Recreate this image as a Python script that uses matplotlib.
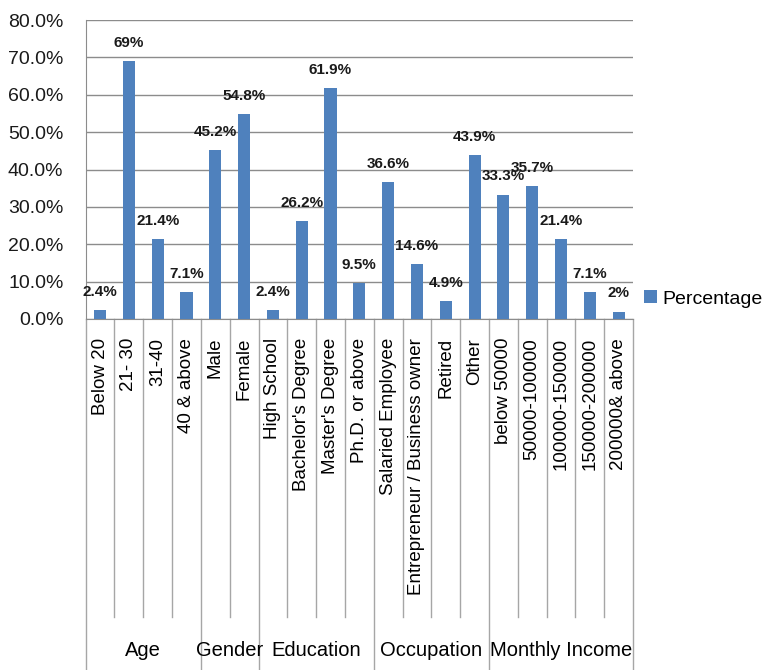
import matplotlib
matplotlib.use('Agg')
import matplotlib.pyplot as plt
from matplotlib.ticker import FuncFormatter

categories = ['Below 20', '21- 30', '31-40', '40 & above',
              'Male', 'Female',
              'High School', "Bachelor's Degree", "Master's Degree", 'Ph.D. or above',
              'Salaried Employee', 'Entrepreneur / Business owner', 'Retired', 'Other',
              'below 50000', '50000-100000', '100000-150000', '150000-200000', '200000& above']
values = [2.4, 69, 21.4, 7.1,
          45.2, 54.8,
          2.4, 26.2, 61.9, 9.5,
          36.6, 14.6, 4.9, 43.9,
          33.3, 35.7, 21.4, 7.1, 2]
value_labels = ['2.4%', '69%', '21.4%', '7.1%', '45.2%', '54.8%', '2.4%', '26.2%', '61.9%',
                '9.5%', '36.6%', '14.6%', '4.9%', '43.9%', '33.3%', '35.7%', '21.4%', '7.1%', '2%']
groups = ['Age', 'Gender', 'Education', 'Occupation', 'Monthly Income']
group_sizes = [4, 2, 4, 4, 5]

plt.rcParams['font.family'] = ['Liberation Sans', 'DejaVu Sans']
bar_color = '#4F81BD'
line_color = '#A6A6A6'
text_color = '#1a1a1a'

fig = plt.figure(figsize=(7.63, 6.70), dpi=100)
ax = fig.add_axes([0.1123, 0.5239, 0.7173, 0.4462])

x = list(range(len(values)))
ax.bar(x, values, width=0.42, color=bar_color, label='Percentage', zorder=3)
for xi, v, lab in zip(x, values, value_labels):
    ax.annotate(lab, (xi, v), xytext=(0, 13), textcoords='offset points',
                ha='center', va='center', fontsize=11, fontweight='bold', color='#1a1a1a')

ax.set_xlim(-0.5, len(values) - 0.5)
ax.set_ylim(0, 80)
ax.set_yticks(range(0, 81, 10))
ax.yaxis.set_major_formatter(FuncFormatter(lambda v, p: '%.1f%%' % v))
ax.tick_params(axis='y', length=0, labelsize=14, labelcolor=text_color, pad=16)
ax.set_xticks([])
ax.grid(axis='y', color='#8C8C8C', linewidth=1, zorder=0)
for s in ['top', 'right']:
    ax.spines[s].set_visible(False)
for s in ['left', 'bottom']:
    ax.spines[s].set_color('#8C8C8C')

# multi-level category axis
tr = ax.get_xaxis_transform()
ax_h = 299.0
y_cat_end = (319 - 617) / ax_h
y_bottom = (319 - 672) / ax_h
y_text = (319 - 338) / ax_h
y_group = (319 - 651) / ax_h

for xi, name in zip(x, categories):
    ax.text(xi, y_text, name, transform=tr, rotation=90, ha='center', va='top',
            fontsize=13.5, color='black')

group_edges = [-0.5]
for n in group_sizes:
    group_edges.append(group_edges[-1] + n)
for i in range(len(values) + 1):
    xe = i - 0.5
    y_end = y_bottom if xe in group_edges else y_cat_end
    ax.plot([xe, xe], [0, y_end], transform=tr, color=line_color, linewidth=1, clip_on=False)
for g, a, b in zip(groups, group_edges[:-1], group_edges[1:]):
    ax.text((a + b) / 2, y_group, g, transform=tr, ha='center', va='center',
            fontsize=14.5, color='black')

ax.legend(loc='center left', bbox_to_anchor=(1.02, 0.067), frameon=False,
          handlelength=0.65, handleheight=0.65, handletextpad=0.3,
          borderpad=0, borderaxespad=0, fontsize=14)

fig.savefig('out.png', dpi=100)
